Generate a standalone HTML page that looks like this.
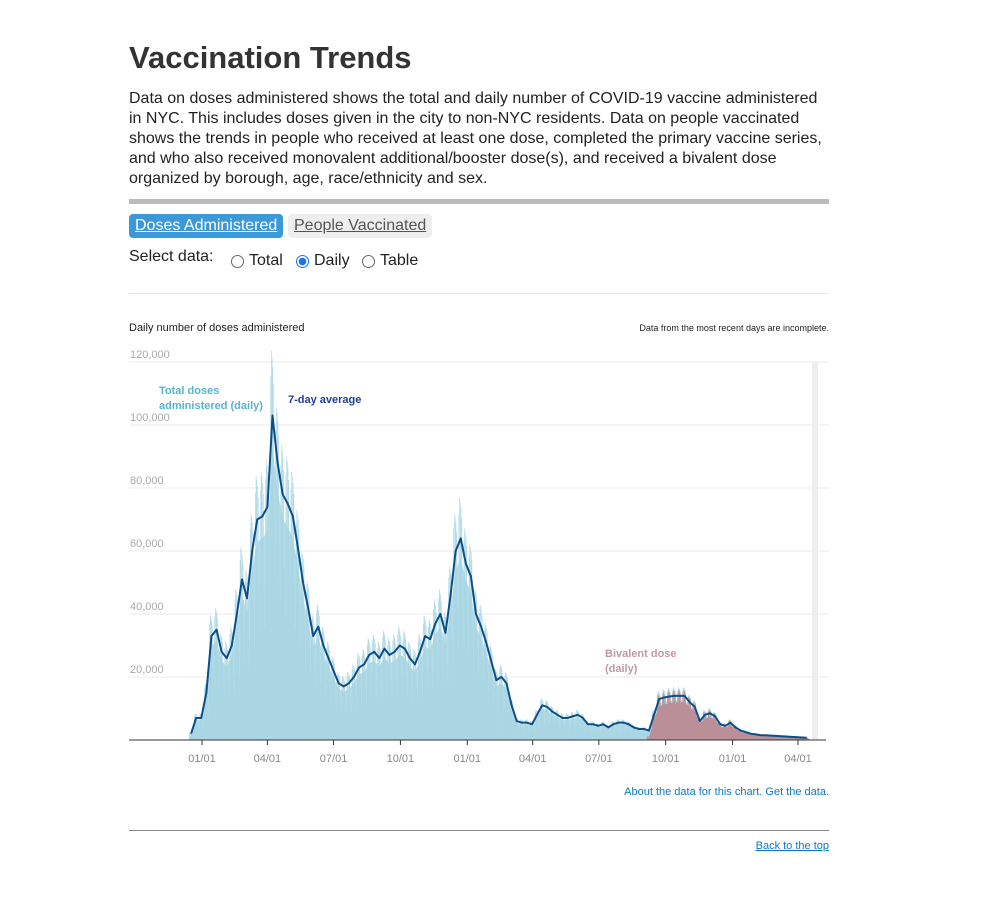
<!DOCTYPE html>
<html><head><meta charset="utf-8">
<style>
body{margin:0;background:#fff;font-family:"Liberation Sans",Arial,sans-serif;color:#222;}
#wrap{position:relative;width:1004px;height:897px;}
h1{position:absolute;left:129px;top:40px;margin:0;font-size:31px;font-weight:bold;color:#333;}
.intro{position:absolute;left:129px;top:89px;width:700px;margin:0;font-size:16px;line-height:20px;color:#222;}
.rule{position:absolute;left:129px;top:199px;width:700px;height:5px;background:#bbb;}
.tab{position:absolute;top:214px;height:24px;line-height:24px;font-size:16px;padding:0 6px;border-radius:4px;text-decoration:underline;}
.t1{left:129px;background:#3b99d9;color:#fff;}
.t2{left:288px;background:#eee;color:#555;}
.sel{position:absolute;left:129px;top:248px;font-size:16px;color:#222;}
.radio{position:absolute;top:252px;font-size:16px;display:flex;align-items:center;}
.radio span.c{display:inline-block;width:13px;height:13px;border:1px solid #666;border-radius:50%;margin-right:5px;box-sizing:border-box;}
.radio span.on{border:1px solid #1a73e8;background:radial-gradient(circle,#1a73e8 0 3.5px,#fff 4px);}
.thin{position:absolute;left:129px;top:293px;width:700px;height:1px;background:#e6e6e6;}
svg{position:absolute;left:0;top:0;}
.about{position:absolute;right:175px;top:786px;font-size:11px;color:#0a7bc2;}
.line2{position:absolute;left:129px;top:830px;width:700px;height:1px;background:#888;}
.back{position:absolute;right:175px;top:840px;font-size:11px;color:#0a7bc2;text-decoration:underline;}
</style></head><body>
<div id="wrap">
<h1>Vaccination Trends</h1>
<p class="intro">Data on doses administered shows the total and daily number of COVID-19 vaccine administered in NYC. This includes doses given in the city to non-NYC residents. Data on people vaccinated shows the trends in people who received at least one dose, completed the primary vaccine series, and who also received monovalent additional/booster dose(s), and received a bivalent dose organized by borough, age, race/ethnicity and sex.</p>
<div class="rule"></div>
<div class="tab t1">Doses Administered</div>
<div class="tab t2">People Vaccinated</div>
<div class="sel">Select data:</div>
<div class="radio" style="left:231px"><span class="c"></span>Total</div>
<div class="radio" style="left:296px"><span class="c on"></span>Daily</div>
<div class="radio" style="left:362px"><span class="c"></span>Table</div>
<div class="thin"></div>
<svg id="chart" width="1004" height="897"></svg>
<div class="about">About the data for this chart. Get the data.</div>
<div class="line2"></div>
<div class="back">Back to the top</div>
</div>
<script>
// weekly 7-day average, weeks starting 2020-12-14
const avgWeekly=[2000,7000,7000,15000,33000,35000,28000,26000,30000,40000,51000,45000,60000,70000,71000,74000,103000,88000,78000,75000,71000,61000,50000,42000,33000,36000,30000,26000,22000,18000,17000,18000,20000,23000,24000,27000,28000,26000,29000,27000,28000,30000,29000,26000,24000,28000,33000,32000,37000,40000,34000,46000,60000,64000,56000,52000,40000,36000,31000,25000,19000,20000,18000,11000,6000,5500,5500,5000,8000,11000,10500,9000,8000,7000,7000,7500,8000,7000,5000,5000,4500,5000,4000,5000,5500,5500,5000,4000,3500,3500,3000,8000,13000,13500,13800,14000,14000,14000,12000,10500,6000,8000,8500,7500,5000,4500,5500,4000,3000,2500,2000,1800,1500,1500,1400,1300,1200,1100,1000,900,800,700];
// bivalent weekly average
const bivStart=90;
const bivWeekly=[1000,7000,12000,12500,13000,13200,13300,13300,11500,10000,5600,7600,8000,7100,4700,4200,5200,3800,2800,2300,1900,1700,1400,1400,1300,1200,1100,1000,900,800,700,650];
// day-of-week factors (Mon..Sun)
const dowFactor=[1.12,1.2,1.18,1.15,1.1,0.7,0.5];
const yTicks=[20000,40000,60000,80000,100000,120000];
const xLabels=["01/01","04/01","07/01","10/01","01/01","04/01","07/01","10/01","01/01","04/01"];
const xTickDays=[0,90,181,273,365,455,546,638,730,820];
const startDay=-18;
const NS="http://www.w3.org/2000/svg";
const svg=document.getElementById('chart');
const X=d=>202+(d)*0.7268;
const Y=v=>740-v/20000*63;
function el(t,a){const e=document.createElementNS(NS,t);for(const k in a)e.setAttribute(k,a[k]);svg.appendChild(e);return e;}
yTicks.forEach((v,i)=>{
 const g=el('line',{x1:129,x2:829,y1:Y(v),y2:Y(v),stroke:'#ebebeb','stroke-width':1});
 
 
 const t=el('text',{x:130,y:Y(v)-4,'font-size':11,fill:'#aaa'});t.textContent=v.toLocaleString('en-US');
 
 
});
const inc=el('rect',{x:812,y:362,width:6,height:378,fill:'#eee'});


// base area fill (lower envelope)
let pa='M'+X(startDay)+',740';
avgWeekly.forEach((v,w)=>{pa+=' L'+X(startDay+w*7+3)+','+Y(v*0.9);});
pa+=' L'+X(startDay+avgWeekly.length*7)+',740Z';
const area=el('path',{d:pa,fill:'#b2dbe6'});


// daily bars
avgWeekly.forEach((v,w)=>{
 for(let d=0;d<7;d++){
  const day=startDay+w*7+d;
  const val=v*dowFactor[d];
  const b=el('rect',{x:X(day),y:Y(val),width:0.6,height:740-Y(val),fill:'#a9d5e4'});
  
  
  const bi=w-bivStart;
  if(bi>=0&&bi<bivWeekly.length){
   const bv=bivWeekly[bi]*dowFactor[d];
   const r=el('rect',{x:X(day),y:Y(bv),width:0.6,height:740-Y(bv),fill:'#bb8f98'});
   
   
  }
 }
});
let pb='M'+X(startDay+bivStart*7)+',740';
bivWeekly.forEach((v,i)=>{pb+=' L'+X(startDay+(bivStart+i)*7+3)+','+Y(v*0.9);});
pb+=' L'+X(startDay+(bivStart+bivWeekly.length)*7)+',740Z';
const barea=el('path',{d:pb,fill:'#bb8f98'});


// avg line
let pl='';
avgWeekly.forEach((v,w)=>{pl+=(w?' L':'M')+X(startDay+w*7+3)+','+Y(v);});
const line=el('path',{d:pl,fill:'none',stroke:'#0b4f85','stroke-width':2,'stroke-linejoin':'round'});


const base=el('line',{x1:129,x2:826,y1:740,y2:740,stroke:'#333','stroke-width':1});


xTickDays.forEach((d,i)=>{
 const tk=el('line',{x1:X(d),x2:X(d),y1:740,y2:745,stroke:'#333'});
 
 
 const t=el('text',{x:X(d),y:762,'font-size':11,fill:'#888','text-anchor':'middle'});t.textContent=xLabels[i];
 
 
});
function txt(x,y,s,o,name){const t=el('text',Object.assign({x:x,y:y},o));t.textContent=s;return t;}
txt(129,331,'Daily number of doses administered',{'font-size':11,fill:'#222'},'chart-title');
txt(829,331,'Data from the most recent days are incomplete.',{'font-size':9,fill:'#222','text-anchor':'end'},'incomplete-note');
txt(159,394,'Total doses',{'font-size':11,'font-weight':'bold',fill:'#58b3d3'},'legend-total-doses');
txt(159,409,'administered (daily)',{'font-size':11,'font-weight':'bold',fill:'#58b3d3'},'legend-total-doses-2');
txt(288,403,'7-day average',{'font-size':11,'font-weight':'bold',fill:'#1f3f99'},'legend-seven-day-average');
txt(605,657,'Bivalent dose',{'font-size':11,'font-weight':'bold',fill:'#c09aa3'},'legend-bivalent');
txt(605,672,'(daily)',{'font-size':11,'font-weight':'bold',fill:'#c09aa3'},'legend-bivalent-2');
</script>
</body></html>
